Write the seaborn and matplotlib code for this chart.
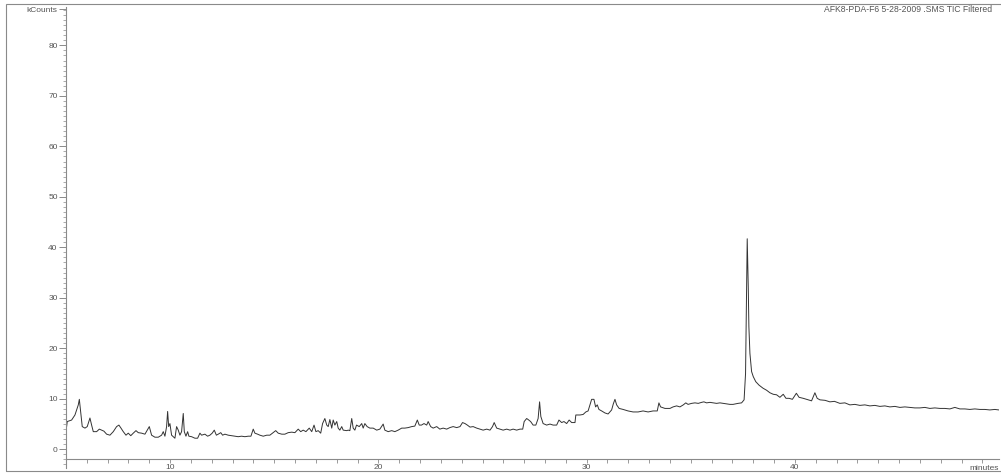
import numpy as np
import pandas as pd
import matplotlib
matplotlib.use("Agg")
import matplotlib.pyplot as plt
from matplotlib.patches import Rectangle
from matplotlib.ticker import MultipleLocator
import seaborn as sns

# Total ion chromatogram: retention time (minutes) and signal (kCounts)
minutes = [
    5.03, 5.06, 5.27, 5.43, 5.51, 5.59, 5.64, 5.71, 5.78, 5.91, 6.02, 6.15, 6.23, 6.31,
    6.47, 6.60, 6.71, 6.82, 6.95, 7.11, 7.27, 7.43, 7.54, 7.64, 7.75, 7.88, 7.99, 8.11,
    8.23, 8.36, 8.47, 8.63, 8.79, 8.90, 9.00, 9.11, 9.27, 9.43, 9.59, 9.67, 9.75, 9.83,
    9.88, 9.93, 9.99, 10.07, 10.23, 10.31, 10.39, 10.47, 10.55, 10.63, 10.68, 10.76,
    10.84, 10.90, 11.03, 11.19, 11.32, 11.43, 11.51, 11.67, 11.80, 11.91, 12.02, 12.12,
    12.22, 12.31, 12.43, 12.52, 12.63, 12.79, 12.95, 13.11, 13.27, 13.43, 13.59, 13.75,
    13.88, 13.99, 14.07, 14.20, 14.31, 14.47, 14.64, 14.79, 14.95, 15.07, 15.19, 15.36,
    15.51, 15.67, 15.84, 15.99, 16.15, 16.27, 16.39, 16.52, 16.68, 16.80, 16.91, 17.00,
    17.11, 17.23, 17.32, 17.43, 17.52, 17.59, 17.67, 17.76, 17.83, 17.91, 18.00, 18.07,
    18.15, 18.24, 18.31, 18.48, 18.55, 18.63, 18.72, 18.79, 18.87, 18.95, 19.08, 19.20,
    19.27, 19.35, 19.46, 19.59, 19.75, 19.92, 20.07, 20.23, 20.31, 20.47, 20.64, 20.79,
    20.95, 21.12, 21.27, 21.43, 21.60, 21.75, 21.87, 21.96, 22.07, 22.19, 22.32, 22.39,
    22.51, 22.63, 22.80, 22.95, 23.11, 23.28, 23.43, 23.59, 23.76, 23.92, 24.04, 24.16,
    24.27, 24.40, 24.55, 24.72, 24.88, 25.03, 25.20, 25.36, 25.48, 25.56, 25.68, 25.84,
    25.99, 26.16, 26.32, 26.47, 26.64, 26.80, 26.93, 27.00, 27.12, 27.19, 27.31, 27.43,
    27.56, 27.67, 27.74, 27.80, 27.91, 28.08, 28.24, 28.39, 28.56, 28.67, 28.80, 28.91,
    29.04, 29.16, 29.28, 29.44, 29.48, 29.68, 29.83, 29.96, 30.07, 30.16, 30.24, 30.35,
    30.43, 30.51, 30.59, 30.72, 30.88, 31.03, 31.20, 31.28, 31.36, 31.44, 31.56, 31.75,
    31.99, 32.23, 32.47, 32.71, 32.95, 33.19, 33.39, 33.47, 33.55, 33.76, 34.00, 34.15,
    34.32, 34.48, 34.64, 34.76, 34.87, 35.04, 35.20, 35.36, 35.52, 35.63, 35.76, 35.92,
    36.08, 36.24, 36.40, 36.56, 36.72, 36.88, 37.03, 37.27, 37.44, 37.56, 37.63, 37.68,
    37.71, 37.76, 37.79, 37.84, 37.92, 38.00, 38.12, 38.28, 38.47, 38.64, 38.80, 38.96,
    39.12, 39.28, 39.44, 39.57, 39.72, 39.88, 40.07, 40.20, 40.40, 40.56, 40.80, 40.96,
    41.07, 41.20, 41.45, 41.68, 41.90, 42.16, 42.40, 42.64, 42.88, 43.12, 43.36, 43.60,
    43.84, 44.08, 44.32, 44.56, 44.80, 45.04, 45.28, 45.52, 45.76, 46.00, 46.24, 46.48,
    46.72, 46.96, 47.20, 47.44, 47.68, 47.92, 48.16, 48.40, 48.64, 48.88, 49.12, 49.36,
    49.60, 49.79,
]
kcounts = [
    4.5, 5.5, 5.8, 6.8, 7.8, 8.8, 9.9, 7.2, 4.5, 4.2, 4.5, 6.2, 4.8, 3.5,
    3.5, 4.0, 3.8, 3.6, 3.0, 2.8, 3.5, 4.5, 4.8, 4.2, 3.5, 2.8, 3.2, 2.7,
    3.2, 3.7, 3.3, 3.2, 3.0, 3.8, 4.5, 2.8, 2.4, 2.4, 2.8, 3.5, 2.6, 4.5,
    7.5, 4.5, 5.1, 2.8, 2.2, 4.5, 3.8, 2.8, 3.5, 7.1, 3.5, 2.6,
    3.5, 2.6, 2.5, 2.2, 2.2, 3.2, 2.8, 3.0, 2.6, 2.8, 3.2, 3.8,
    2.8, 3.0, 3.3, 2.8, 3.0, 2.8, 2.7, 2.6, 2.5, 2.6, 2.5, 2.6,
    2.6, 4.0, 3.2, 3.0, 2.8, 2.6, 2.8, 2.8, 3.3, 3.7, 3.2, 3.0,
    3.0, 3.3, 3.4, 3.3, 4.0, 3.5, 3.8, 3.5, 4.2, 3.5, 4.8, 3.5,
    3.7, 3.2, 5.1, 6.1, 4.8, 4.5, 5.9, 4.2, 5.8, 4.8, 5.5, 4.2,
    3.8, 4.5, 3.8, 3.7, 3.8, 3.7, 6.1, 4.2, 3.8, 4.8, 4.5, 5.1,
    4.2, 5.1, 4.5, 4.2, 4.2, 3.8, 4.0, 5.0, 3.8, 3.5, 3.7, 3.5,
    3.8, 4.2, 4.2, 4.3, 4.5, 4.6, 5.8, 4.8, 4.8, 5.1, 4.8, 5.5,
    4.5, 4.2, 4.5, 4.0, 4.2, 4.0, 4.3, 4.5, 4.3, 4.5, 5.3, 5.1,
    4.8, 4.4, 4.5, 4.2, 4.0, 3.8, 4.0, 3.8, 4.5, 5.3, 4.2, 4.0,
    3.8, 4.0, 3.8, 4.0, 3.8, 4.0, 4.0, 5.5, 6.1, 5.9, 5.5, 4.8,
    4.8, 6.1, 9.4, 6.5, 5.1, 4.8, 5.0, 4.8, 4.8, 5.8, 5.3, 5.5,
    5.1, 5.8, 5.3, 5.3, 6.8, 6.8, 6.9, 7.4, 7.6, 8.8, 9.9, 9.9,
    8.4, 8.8, 7.9, 7.6, 7.2, 7.0, 7.8, 9.0, 9.9, 8.8, 8.1, 7.9,
    7.6, 7.4, 7.4, 7.6, 7.4, 7.6, 7.6, 9.2, 8.4, 8.1, 8.1, 8.4,
    8.6, 8.4, 8.8, 9.2, 8.9, 9.1, 9.2, 9.1, 9.3, 9.4, 9.2, 9.3,
    9.2, 9.1, 9.2, 9.1, 9.0, 8.9, 8.9, 9.1, 9.2, 9.8, 15.0, 32.2,
    41.7, 32.2, 24.3, 19.0, 15.4, 14.4, 13.4, 12.7, 12.1, 11.7, 11.2, 10.9,
    10.8, 10.3, 10.9, 10.1, 10.1, 9.9, 11.1, 10.3, 10.1, 9.9, 9.6, 11.2,
    10.1, 9.8, 9.7, 9.4, 9.5, 9.1, 9.2, 8.8, 8.9, 8.7, 8.8, 8.6,
    8.7, 8.5, 8.6, 8.4, 8.5, 8.3, 8.4, 8.3, 8.2, 8.2, 8.3, 8.1,
    8.2, 8.1, 8.1, 8.0, 8.3, 8.0, 8.0, 7.9, 8.0, 7.9, 7.9, 7.8,
    7.9, 7.8,
]
y_ticks = [0, 10, 20, 30, 40, 50, 60, 70, 80]
x_ticks = [10, 20, 30, 40]
title_text = "AFK8-PDA-F6 5-28-2009 .SMS TIC Filtered"

df = pd.DataFrame({"minutes": minutes, "kCounts": kcounts})

sns.set_style("white")
plt.rcParams["font.family"] = ["Liberation Sans", "DejaVu Sans"]

W, H = 1001, 475
fig = plt.figure(figsize=(W / 100, H / 100), dpi=100)
ax = fig.add_axes([66 / W, 1 - 468 / H, 933 / W, 461 / H])

sns.lineplot(data=df, x="minutes", y="kCounts", ax=ax, color="#333333",
             linewidth=0.7, estimator=None, sort=False)

ax.set_xlim(5.0, 49.8)
ax.set_ylim(-3.7, 87.6)
ax.set_xlabel("")
ax.set_ylabel("")

axis_grey = "#8a8a8a"
for side in ("top", "right"):
    ax.spines[side].set_visible(False)
ax.spines["bottom"].set_position(("data", -1.98))
for side in ("left", "bottom"):
    ax.spines[side].set_color(axis_grey)
    ax.spines[side].set_linewidth(0.8)

ax.set_yticks(y_ticks + [87.2])
ax.set_yticklabels([str(v) for v in y_ticks] + ["kCounts"])
ax.yaxis.set_minor_locator(MultipleLocator(1))
ax.set_xticks(x_ticks)
ax.set_xticklabels([str(v) for v in x_ticks])
ax.xaxis.set_minor_locator(MultipleLocator(1))

ax.tick_params(axis="y", which="major", direction="out", length=5, width=0.7,
               color=axis_grey, labelsize=6, labelcolor="#555555", pad=1)
ax.tick_params(axis="y", which="minor", direction="out", length=2.5, width=0.5,
               color=axis_grey)
ax.tick_params(axis="x", which="both", direction="out", length=3, width=0.6,
               color=axis_grey, labelsize=6, labelcolor="#555555", pad=0.5)
ax.tick_params(left=True, bottom=True, which="both")

fig.text(999 / W, 1 - 469 / H, "minutes", fontsize=6, color="#555555",
         ha="right", va="center")
fig.text(992 / W, 1 - 10 / H, title_text, fontsize=6.2, color="#555555",
         ha="right", va="center")

fig.patches.append(Rectangle((6 / W, 1 - 471 / H), 1.0, 467 / H,
                             transform=fig.transFigure, fill=False,
                             edgecolor="#8a8a8a", linewidth=0.8, zorder=0))

fig.savefig("out.png", dpi=100)
